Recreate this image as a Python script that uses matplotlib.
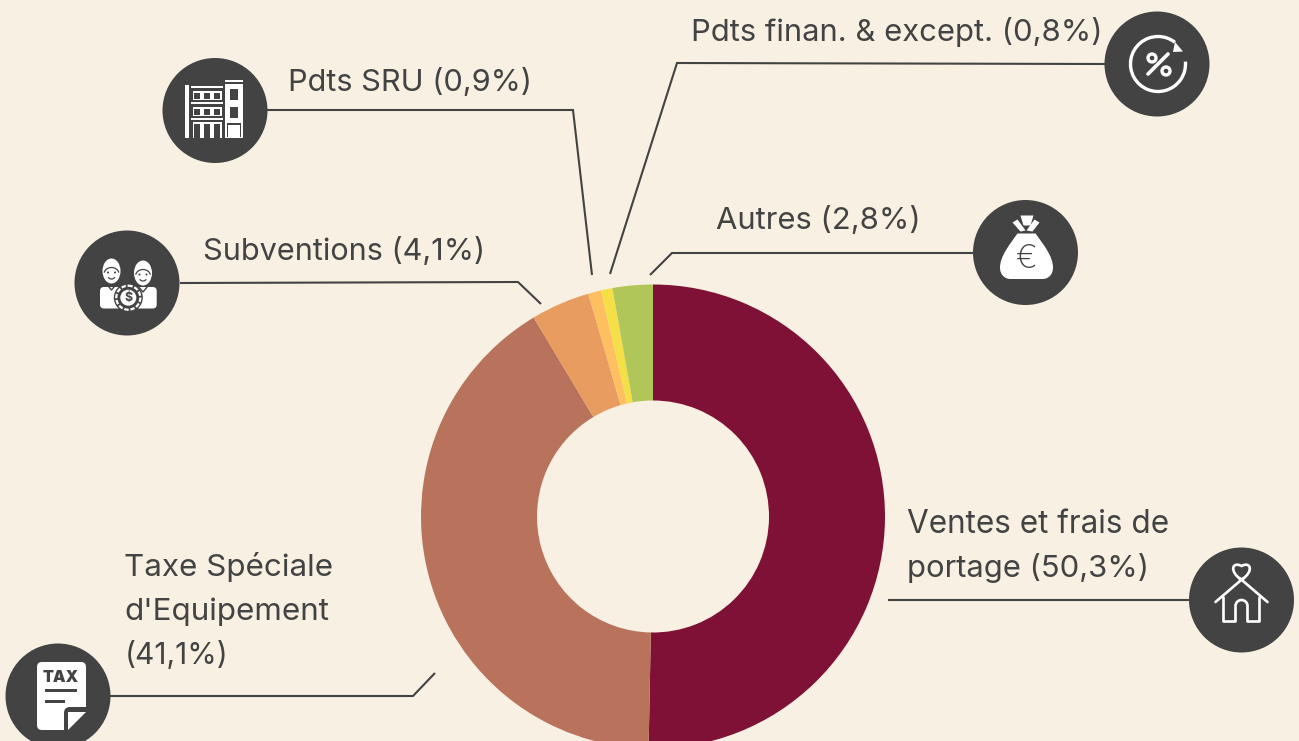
import matplotlib
matplotlib.use("Agg")
import matplotlib.pyplot as plt
from matplotlib.patches import Arc, Circle, Ellipse, FancyBboxPatch, PathPatch, Polygon, Rectangle
from matplotlib.path import Path

BG = "#F8F0E2"
DARK = "#434343"
WHITE = "#FFFFFF"

shares = [50.3, 41.1, 4.1, 0.9, 0.8, 2.8]
colors = ["#7F1136", "#B9735C", "#E99C5F", "#FDBF60", "#F4DF47", "#B1C659"]

label_lines = [
    ["Ventes et frais de", "portage (50,3%)"],
    ["Taxe Spéciale", "d'Equipement", "(41,1%)"],
    ["Subventions (4,1%)"],
    ["Pdts SRU (0,9%)"],
    ["Pdts finan. & except. (0,8%)"],
    ["Autres (2,8%)"],
]
# the percent glyphs run a bit wide in Inter, so each line gets its own size
label_sizes = [[22.7, 22.3], [22.6, 22.6, 21.6], [22.1], [22.1], [22.3], [22.3]]
label_pos = [(907, 533), (124.5, 576), (203.5, 260), (288, 91), (691.5, 41), (716.5, 229)]
leaders = [
    [(888, 600), (1189, 600)],
    [(110, 696), (413, 696), (435, 673)],
    [(180, 283), (518, 282), (541, 304)],
    [(267, 110), (573, 110), (592, 275)],
    [(1105, 64), (677, 63), (610, 274)],
    [(973, 253), (672, 253), (650, 275)],
]
badges = [(1241.5, 600), (58, 696), (127, 283), (215, 110.5), (1157, 64), (1025.5, 252.5)]

plt.rcParams["font.family"] = ["Inter", "DejaVu Sans"]

fig = plt.figure(figsize=(12.99, 7.41), dpi=100, facecolor=BG)
ax = fig.add_axes([0, 0, 1, 1])

# y axis is flipped below, so counterclock here reads clockwise on screen
ax.pie(shares, colors=colors, center=(653, 516.5), radius=232, startangle=-90,
       counterclock=True, wedgeprops=dict(width=116, linewidth=0))
ax.set_xlim(0, 1299)
ax.set_ylim(741, 0)
ax.axis("off")

for pts in leaders:
    ax.plot([p[0] for p in pts], [p[1] for p in pts], color=DARK, lw=1.5,
            solid_joinstyle="miter", solid_capstyle="butt", zorder=2)

for (x, y), lines, sizes in zip(label_pos, label_lines, label_sizes):
    for i, (line, size) in enumerate(zip(lines, sizes)):
        ax.text(x, y + i * 44, line, color=DARK, fontsize=size, ha="left", va="baseline", zorder=3)

for cx, cy in badges:
    ax.add_patch(Circle((cx, cy), 52.5, fc=DARK, ec="none", zorder=3))


def rect(x0, y0, x1, y1, c=WHITE, z=4):
    ax.add_patch(Rectangle((x0, y0), x1 - x0, y1 - y0, fc=c, ec="none", zorder=z))


def house_icon(cx, cy):
    kw = dict(color=WHITE, lw=1.9, zorder=4, solid_capstyle="round", solid_joinstyle="round")
    ax.plot([cx - 26, cx + 2], [cy + 2, cy - 22], **kw)
    ax.plot([cx + 26, cx - 2], [cy + 2, cy - 22], **kw)
    ax.plot([cx - 18, cx - 18, cx - 6, cx - 6], [cy - 3, cy + 21, cy + 21, cy + 6], **kw)
    ax.plot([cx + 18, cx + 18, cx + 6, cx + 6], [cy - 3, cy + 21, cy + 21, cy + 6], **kw)
    ax.add_patch(Arc((cx, cy + 6), 12, 12, theta1=180, theta2=360, ec=WHITE, lw=1.9, zorder=4))
    heart = Path([(cx, cy - 20), (cx - 13, cy - 29), (cx - 9, cy - 39), (cx, cy - 34),
                  (cx + 9, cy - 39), (cx + 13, cy - 29), (cx, cy - 20)],
                 [Path.MOVETO, Path.CURVE4, Path.CURVE4, Path.CURVE4,
                  Path.CURVE4, Path.CURVE4, Path.CURVE4])
    ax.add_patch(PathPatch(heart, fc="none", ec=WHITE, lw=1.9, zorder=4))


def tax_icon(cx, cy):
    ax.add_patch(FancyBboxPatch((cx - 21, cy - 34), 49, 68, boxstyle="round,pad=0,rounding_size=5",
                                fc=WHITE, ec="none", zorder=4))
    ax.text(cx + 3, cy - 18.5, "TAX", color=DARK, fontsize=11.5, fontweight="black",
            ha="center", va="center", zorder=5)
    rect(cx - 13, cy - 7, cx + 19, cy - 4, DARK, 5)
    rect(cx - 13, cy + 3.5, cx + 7, cy + 7, DARK, 5)
    # folded corner: dark notch with a white flap inside
    ax.add_patch(FancyBboxPatch((cx + 6, cy + 11), 28, 28, boxstyle="round,pad=0,rounding_size=6",
                                fc=DARK, ec="none", zorder=5))
    ax.add_patch(Polygon([(cx + 10, cy + 16), (cx + 28, cy + 16), (cx + 10, cy + 34)],
                         fc=WHITE, ec="none", zorder=6))


def people_icon(cx, cy):
    for dx, dy, bx in [(-15.5, -12, -27), (16, -10, 8)]:
        ax.add_patch(FancyBboxPatch((cx + bx, cy + 4), 21.7, 21.5,
                                    boxstyle="round,pad=0,rounding_size=4", fc=WHITE, ec="none", zorder=4))
        ax.add_patch(Ellipse((cx + dx, cy + dy), 18, 25, fc=WHITE, ec="none", zorder=5))
        # hairline, eyes and smile
        ax.add_patch(Arc((cx + dx, cy + dy + 3), 15, 13, theta1=190, theta2=350, ec=DARK, lw=0.9, zorder=6))
        ax.add_patch(Circle((cx + dx - 3.5, cy + dy + 1.5), 1, fc=DARK, ec="none", zorder=6))
        ax.add_patch(Circle((cx + dx + 3.5, cy + dy + 1.5), 1, fc=DARK, ec="none", zorder=6))
        ax.add_patch(Arc((cx + dx, cy + dy + 5), 7, 6, theta1=20, theta2=160, ec=DARK, lw=0.9, zorder=6))
        # collar
        ax.plot([cx + dx - 5, cx + dx, cx + dx + 5], [cy + dy + 13, cy + dy + 19, cy + dy + 13],
                color=DARK, lw=1.0, zorder=6)
    ax.add_patch(Circle((cx + 1.3, cy + 14.7), 14.5, fc=DARK, ec="none", zorder=6))
    ax.add_patch(Circle((cx + 1.3, cy + 14.7), 12, fc="none", ec=WHITE, lw=1.6, ls=(0, (2, 0.8)), zorder=7))
    ax.add_patch(Circle((cx + 1.3, cy + 14.7), 8, fc=WHITE, ec="none", zorder=7))
    ax.text(cx + 1.3, cy + 14.7, "$", color=DARK, fontsize=9, fontweight="bold", ha="center",
            va="center", zorder=8)


def building_icon(cx, cy):
    rect(cx - 30, cy - 25.5, cx - 26, cy + 27)
    rect(cx - 24, cy - 24.5, cx + 8.3, cy - 22.2)
    rect(cx - 24, cy - 8.8, cx + 8.3, cy - 6.2)
    rect(cx - 24, cy + 7.2, cx + 8.3, cy + 9.5)
    for y0, y1, gap in ((-19.8, -10.5, 1), (-3.8, 5.2, 1), (11.2, 27, 0)):
        rect(cx - 22.3, cy + y0, cx + 6.7, cy + y1)
        for x0 in (-20.5, -10.5, -0.5):
            rect(cx + x0, cy + y0 + 2, cx + x0 + 5.5, cy + y1 - gap, DARK, 5)
    rect(cx + 10, cy - 30.5, cx + 28.3, cy - 28.2)
    rect(cx + 10, cy - 26.5, cx + 28.3, cy + 27)
    rect(cx + 15, cy - 21.5, cx + 23.3, cy - 10.5, DARK, 5)
    rect(cx + 15, cy - 3.8, cx + 23.3, cy + 7.8, DARK, 5)
    rect(cx + 12, cy + 12.8, cx + 26.5, cy + 27, DARK, 5)
    rect(cx + 13.3, cy + 14.5, cx + 25.2, cy + 27, WHITE, 6)


def percent_icon(cx, cy):
    cx += 1
    ax.add_patch(Arc((cx, cy), 55, 55, theta1=-5, theta2=308, ec=WHITE, lw=2.4, zorder=4))
    ax.add_patch(Polygon([(cx + 17, cy - 22), (cx + 25, cy - 12.5), (cx + 15, cy - 12)],
                         fc=WHITE, ec="none", zorder=5))
    ax.plot([cx - 10, cx + 10], [cy + 10, cy - 10], color=WHITE, lw=2.6, zorder=4, solid_capstyle="round")
    ax.add_patch(Circle((cx - 6, cy - 6), 4, fc="none", ec=WHITE, lw=2.4, zorder=4))
    ax.add_patch(Circle((cx + 8, cy + 7), 4, fc="none", ec=WHITE, lw=2.4, zorder=4))


def bag_icon(cx, cy):
    body = Path([(cx - 8, cy - 19), (cx - 16, cy - 8), (cx - 25.5, cy + 4), (cx - 25.5, cy + 15),
                 (cx - 25.5, cy + 22), (cx - 21, cy + 26.5), (cx - 15, cy + 26.5),
                 (cx + 17, cy + 26.5), (cx + 23, cy + 26.5), (cx + 27.5, cy + 22), (cx + 27.5, cy + 15),
                 (cx + 27.5, cy + 4), (cx + 18, cy - 8), (cx + 10, cy - 19), (cx - 8, cy - 19)],
                [Path.MOVETO, Path.CURVE4, Path.CURVE4, Path.CURVE4, Path.CURVE4, Path.CURVE4, Path.CURVE4,
                 Path.LINETO, Path.CURVE4, Path.CURVE4, Path.CURVE4, Path.CURVE4, Path.CURVE4, Path.CURVE4,
                 Path.CLOSEPOLY])
    ax.add_patch(PathPatch(body, fc=WHITE, ec="none", zorder=4))
    ax.add_patch(Polygon([(cx - 5, cy - 37), (cx + 8, cy - 37), (cx + 5, cy - 27), (cx - 2, cy - 27)],
                         fc=WHITE, ec="none", zorder=4))
    ax.add_patch(Polygon([(cx - 13, cy - 30), (cx - 8, cy - 33), (cx, cy - 22), (cx - 5, cy - 21)],
                         fc=WHITE, ec="none", zorder=4))
    ax.add_patch(Polygon([(cx + 14, cy - 30), (cx + 9, cy - 33), (cx + 1, cy - 22), (cx + 7, cy - 21)],
                         fc=WHITE, ec="none", zorder=4))
    ax.text(cx, cy + 7, "€", color=DARK, fontsize=23, ha="center", va="center", zorder=5,
            fontweight="light")


icon_funcs = [house_icon, tax_icon, people_icon, building_icon, percent_icon, bag_icon]
for func, (cx, cy) in zip(icon_funcs, badges):
    func(cx, cy)

fig.savefig("out.png", dpi=100, facecolor=BG)
plt.close(fig)
